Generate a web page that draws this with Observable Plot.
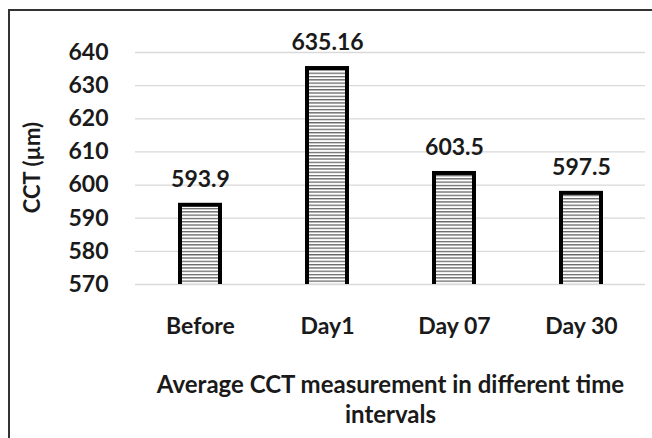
<!DOCTYPE html>
<html>
<head>
<meta charset="utf-8">
<script src="https://cdn.jsdelivr.net/npm/d3@7"></script>
<script src="https://cdn.jsdelivr.net/npm/@observablehq/plot@0.6"></script>
<style>
  html, body { margin: 0; padding: 0; background: #fff; }
  #wrap { position: relative; width: 652px; height: 438px; overflow: hidden; }
  #border { position: absolute; left: 8px; top: 9px; width: 700px; height: 500px;
            border-top: 2px solid #333; border-left: 2px solid #333; }
  #chart { position: absolute; left: 0; top: 0; }
  svg text { font-family: Lato, sans-serif; font-weight: bold; }
</style>
</head>
<body>
<div id="wrap"><div id="border"></div><div id="chart"></div></div>
<script>
const categories = ["Before", "Day1", "Day 07", "Day 30"];
const values = [593.9, 635.16, 603.5, 597.5];
const valueLabels = ["593.9", "635.16", "603.5", "597.5"];
const yTicks = [570, 580, 590, 600, 610, 620, 630, 640];
const yLabel = "CCT (µm)";
const xTitle = "Average CCT measurement in different time\nintervals";

const data = categories.map((c, i) => ({cat: c, v: values[i], label: valueLabels[i]}));

const defs = () => {
  const d = d3.create("svg:defs");
  const p = d.append("pattern").attr("id", "stripes").attr("patternUnits", "userSpaceOnUse")
    .attr("width", 10).attr("height", 3.3);
  p.append("rect").attr("width", 10).attr("height", 3.3).attr("fill", "#fff");
  p.append("rect").attr("y", 0).attr("width", 10).attr("height", 1.3).attr("fill", "#666");
  return d.node();
};

const FS = 23;
const chart = Plot.plot({
  width: 652,
  height: 438,
  marginLeft: 135,
  marginRight: 7,
  marginTop: 52,
  marginBottom: 154,
  style: {fontFamily: "Lato, sans-serif", fontSize: FS + "px", fontWeight: "bold", color: "#1a1a1a", background: "transparent"},
  x: {domain: categories, paddingInner: 0.686, paddingOuter: 0.343, label: null, tickSize: 0, tickPadding: 33},
  y: {domain: [570, 640], ticks: yTicks, label: null, tickSize: 0, tickPadding: 27, tickFormat: d => String(d)},
  marks: [
    defs,
    Plot.ruleY(yTicks, {stroke: "#d9d9d9", strokeWidth: 1.3}),
    Plot.barY(data, {x: "cat", y1: 560, y2: "v", fill: "url(#stripes)", stroke: "#000", strokeWidth: 4, clip: true}),
    Plot.text(data, {x: "cat", y: "v", text: "label", dy: -26, fontSize: FS, fontWeight: "bold", fill: "#1a1a1a"}),
    Plot.text([xTitle], {frameAnchor: "bottom", dy: 114, lineAnchor: "middle", lineHeight: 1.25, fontSize: 24, fontWeight: "bold", fill: "#1a1a1a"}),
    Plot.text([yLabel], {frameAnchor: "left", dx: -103, dy: -1, rotate: -90, textAnchor: "middle", fontSize: 22, fontWeight: "bold", fill: "#1a1a1a"})
  ]
});
document.getElementById("chart").appendChild(chart);
</script>
</body>
</html>
